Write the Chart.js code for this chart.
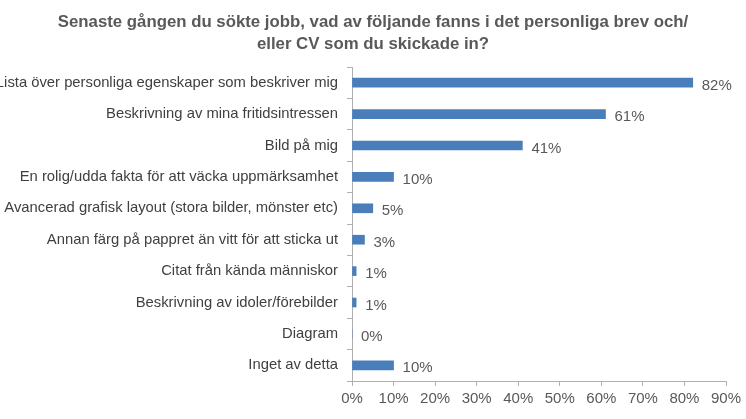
<!DOCTYPE html>
<html>
<head>
<meta charset="utf-8">
<script src="https://cdn.jsdelivr.net/npm/chart.js@4"></script>
<style>
  html, body { margin: 0; padding: 0; background: #fff; }
  #wrap { width: 746px; height: 419px; }
</style>
</head>
<body>
<div id="wrap"><canvas id="cvChart"></canvas></div>
<script>
/* ---------- data ---------- */
const titleLines = [
  "Senaste gången du sökte jobb, vad av följande fanns i det personliga brev och/",
  "eller CV som du skickade in?"
];
const categories = [
  "Lista över personliga egenskaper som beskriver mig",
  "Beskrivning av mina fritidsintressen",
  "Bild på mig",
  "En rolig/udda fakta för att väcka uppmärksamhet",
  "Avancerad grafisk layout (stora bilder, mönster etc)",
  "Annan färg på pappret än vitt för att sticka ut",
  "Citat från kända människor",
  "Beskrivning av idoler/förebilder",
  "Diagram",
  "Inget av detta"
];
const shares = [82, 61, 41, 10, 5, 3, 1, 1, 0, 10];
const xTicks = [0, 10, 20, 30, 40, 50, 60, 70, 80, 90];

const FONT = "'Liberation Sans', Arial, sans-serif";

/* ---------- title centred on the whole picture ---------- */
const pageTitle = {
  id: "pageTitle",
  afterDraw(chart) {
    const ctx = chart.ctx;
    ctx.save();
    ctx.font = "bold 16.8px " + FONT;
    ctx.fillStyle = "#595959";
    ctx.textAlign = "center";
    ctx.textBaseline = "middle";
    titleLines.forEach((line, i) => ctx.fillText(line, chart.width / 2, 22 + i * 22));
    ctx.restore();
  }
};

/* ---------- value labels at bar ends ---------- */
const valueLabels = {
  id: "valueLabels",
  afterDatasetsDraw(chart) {
    const ctx = chart.ctx;
    const meta = chart.getDatasetMeta(0);
    ctx.save();
    ctx.font = "15px " + FONT;
    ctx.fillStyle = "#595959";
    ctx.textAlign = "left";
    ctx.textBaseline = "middle";
    meta.data.forEach((bar, i) => {
      ctx.fillText(shares[i] + "%", bar.x + 9, bar.y + 3);
    });
    ctx.restore();
  }
};

new Chart(document.getElementById("cvChart").getContext("2d"), {
  type: "bar",
  data: {
    labels: categories,
    datasets: [{
      data: shares,
      backgroundColor: "#4a7ebb",
      barThickness: 9
    }]
  },
  plugins: [valueLabels, pageTitle],
  options: {
    indexAxis: "y",
    responsive: true,
    maintainAspectRatio: false,
    animation: false,
    layout: { padding: { left: 0, right: 20, top: 67, bottom: 7 } },
    plugins: {
      legend: { display: false },
      tooltip: { enabled: false },
      title: { display: false }
    },
    scales: {
      x: {
        min: 0,
        max: 90,
        afterBuildTicks: axis => { axis.ticks = xTicks.map(v => ({ value: v })); },
        grid: { drawOnChartArea: false, color: "#b0b0b0", tickLength: 5 },
        border: { color: "#b0b0b0" },
        ticks: {
          color: "#595959",
          font: { family: FONT, size: 15 },
          padding: 4,
          maxRotation: 0,
          callback: v => v + "%"
        }
      },
      y: {
        afterFit: axis => { axis.width = 352; },
        grid: { drawOnChartArea: false, color: "#b0b0b0", tickLength: 5, offset: true },
        border: { color: "#b0b0b0" },
        ticks: {
          color: "#404040",
          font: { family: FONT, size: 14.8 },
          padding: 9,
          autoSkip: false
        }
      }
    }
  }
});
</script>
</body>
</html>
